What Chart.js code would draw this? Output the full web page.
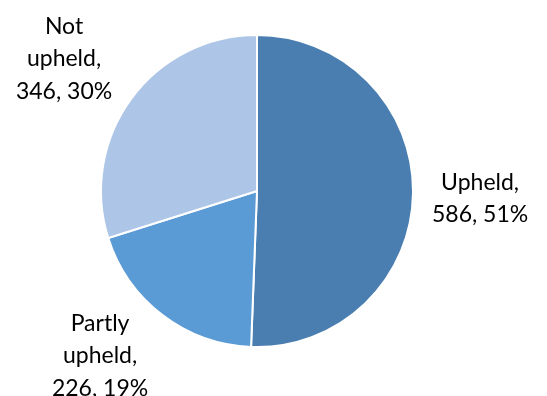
<!DOCTYPE html>
<html>
<head>
<meta charset="utf-8">
<script src="https://cdn.jsdelivr.net/npm/chart.js@4.4.1/dist/chart.umd.min.js"></script>
<style>
  html, body { margin: 0; padding: 0; background: #fff; }
  #wrap { width: 547px; height: 396px; }
</style>
</head>
<body>
<div id="wrap"><canvas id="pie" width="547" height="396"></canvas></div>
<script>
// data
const categories = ['Upheld', 'Partly upheld', 'Not upheld'];
const counts = [586, 226, 346];
const pctLabels = ['51%', '19%', '30%'];
// how each label wraps in the original
const nameLines = [['Upheld,'], ['Partly', 'upheld,'], ['Not', 'upheld,']];
const sliceColors = ['#4A7EB0', '#5B9BD5', '#ADC5E6'];

// label anchor relative to pie centre, in radii (x, y of middle baseline)
const labelAnchor = [[1.43, 0.096], [-1.006, 1.103], [-1.237, -0.801]];

const outsideLabels = {
  id: 'outsideLabels',
  afterDraw(chart) {
    const ctx = chart.ctx;
    const arcs = chart.getDatasetMeta(0).data;
    ctx.save();
    ctx.font = '23px Lato, "Open Sans", sans-serif';
    ctx.fillStyle = '#000';
    ctx.textAlign = 'center';
    ctx.textBaseline = 'alphabetic';
    const lh = 32.5;
    arcs.forEach((arc, i) => {
      const p = arc.getProps(['x', 'y', 'outerRadius'], true);
      const cx = p.x + labelAnchor[i][0] * p.outerRadius;
      const cy = p.y + labelAnchor[i][1] * p.outerRadius;
      const lines = nameLines[i].concat([counts[i] + ', ' + pctLabels[i]]);
      const y0 = cy - (lines.length - 1) * lh / 2;
      lines.forEach((t, j) => ctx.fillText(t, cx, y0 + j * lh));
    });
    ctx.restore();
  }
};

new Chart(document.getElementById('pie').getContext('2d'), {
  type: 'pie',
  data: {
    labels: categories,
    datasets: [{
      data: counts,
      backgroundColor: sliceColors,
      borderColor: '#ffffff',
      borderWidth: 2
    }]
  },
  options: {
    responsive: false,
    animation: false,
    layout: { padding: { left: 100, right: 133, top: 34, bottom: 48 } },
    plugins: {
      legend: { display: false },
      tooltip: { enabled: false }
    }
  },
  plugins: [outsideLabels]
});
</script>
</body>
</html>
